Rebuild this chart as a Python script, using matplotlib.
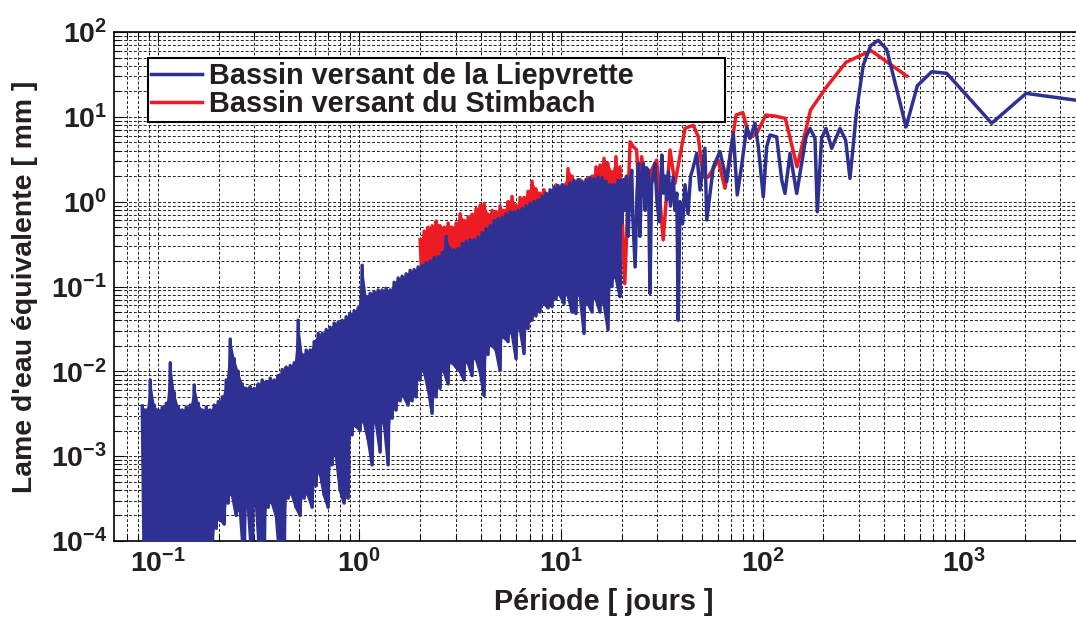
import numpy as np
import matplotlib
matplotlib.use("Agg")
import matplotlib.pyplot as plt
from matplotlib.ticker import FixedLocator, LogLocator, FuncFormatter, NullFormatter
from matplotlib.lines import Line2D
from matplotlib.font_manager import FontProperties

plt.rcParams.update({
    "font.family": ["Liberation Sans", "DejaVu Sans"],
    "font.weight": "bold",
    "mathtext.fontset": "custom",
    "mathtext.rm": "Liberation Sans:bold",
    "mathtext.bf": "Liberation Sans:bold",
    "mathtext.it": "Liberation Sans:bold",
    "mathtext.sf": "Liberation Sans:bold",
    "mathtext.default": "bf",
    "path.simplify": False,
})

# ---------------- data ----------------
series_labels = ["Bassin versant de la Liepvrette", "Bassin versant du Stimbach"]
x_ticks = [1e-1, 1e0, 1e1, 1e2, 1e3]
y_ticks = [1e-4, 1e-3, 1e-2, 1e-1, 1e0, 1e1, 1e2]

# Liepvrette: dense part (alternating crest / trough values), period span in days
blue_dense_span = (0.0837, 19.6)
blue_dense_hi = [
    3.9e-3, 3.5e-3, 7.9e-3, 4.0e-3, 3.5e-3, 3.8e-3, 4.2e-3, 0.0126, 5.6e-3, 3.8e-3,
    3.5e-3, 3.8e-3, 4.0e-3, 6.9e-3, 4.2e-3, 3.5e-3, 3.8e-3, 3.5e-3, 4.0e-3, 4.4e-3,
    5.0e-3, 7.9e-3, 0.024, 0.0141, 0.010, 7.1e-3, 6.3e-3, 6.6e-3, 6.3e-3, 7.1e-3,
    7.9e-3, 7.6e-3, 8.3e-3, 7.9e-3, 8.9e-3, 0.0105, 0.0112, 0.0117, 0.0126, 0.040,
    0.0158, 0.0178, 0.0178, 0.0224, 0.028, 0.028, 0.031, 0.033, 0.037, 0.038,
    0.040, 0.044, 0.048, 0.052, 0.056, 0.178, 0.076, 0.083, 0.087, 0.091,
    0.091, 0.095, 0.091, 0.112, 0.126, 0.132, 0.141, 0.155, 0.158, 0.170,
    0.178, 0.19, 0.20, 0.219, 0.224, 0.25, 0.39, 0.28, 0.27, 0.28,
    0.32, 0.34, 0.355, 0.355, 0.38, 0.43, 0.48, 0.52, 0.60, 0.63,
    0.66, 0.71, 0.76, 0.76, 0.79, 0.83, 0.89, 0.95, 1.0, 1.05,
    1.15, 1.26, 1.38, 1.48, 1.55, 1.58, 1.51, 1.66, 1.78, 1.82,
    1.74, 1.82, 1.91, 1.86, 1.95, 1.91, 1.74, 1.58, 1.58, 1.78,
]
blue_dense_lo = [
    5.0e-5, 5.0e-5, 6.3e-5, 5.0e-5, 5.0e-5, 7.9e-5, 5.0e-5, 5.0e-5, 6.3e-5, 5.0e-5,
    5.0e-5, 1.0e-4, 5.0e-5, 5.0e-5, 5.0e-5, 6.3e-5, 5.0e-5, 5.0e-5, 1.41e-4, 1.78e-4,
    1.58e-4, 2.8e-4, 3.5e-4, 2.0e-4, 2.24e-4, 5.0e-5, 2.5e-4, 5.0e-5, 2.8e-4, 5.0e-5,
    5.0e-5, 2.5e-4, 2.8e-4, 2.0e-4, 5.0e-5, 5.0e-5, 3.2e-4, 3.5e-4, 2.5e-4, 2.0e-4,
    3.2e-4, 3.5e-4, 2.5e-4, 4.5e-4, 6.3e-4, 3.5e-4, 2.5e-4, 7.9e-4, 1.0e-3, 4.0e-4,
    2.8e-4, 3.2e-4, 1.78e-3, 2.24e-3, 2.0e-3, 2.5e-3, 1.58e-3, 7.9e-4, 2.5e-3, 1.12e-3,
    2.5e-3, 7.9e-4, 2.8e-3, 3.5e-3, 4.5e-3, 5.0e-3, 4.0e-3, 4.5e-3, 5.0e-3, 7.9e-3,
    0.010, 6.3e-3, 3.2e-3, 5.0e-3, 6.3e-3, 0.010, 7.1e-3, 0.0126, 0.0112, 0.010,
    7.9e-3, 0.0126, 8.9e-3, 0.0141, 0.010, 5.2e-3, 0.0158, 0.020, 0.0178, 0.0102,
    0.025, 0.0224, 0.028, 0.0141, 0.032, 0.0162, 0.032, 0.040, 0.045, 0.050,
    0.063, 0.056, 0.058, 0.071, 0.079, 0.063, 0.079, 0.050, 0.048, 0.079,
    0.028, 0.063, 0.050, 0.071, 0.050, 0.063, 0.031, 0.10, 0.126, 0.076,
]
# Liepvrette: long periods
blue_periods = [
    19.7, 20.05, 20.4, 20.7, 21.1, 21.5, 22.0, 22.4, 22.7, 23.3,
    23.8, 24.2, 24.6, 25.1, 25.6, 26.1, 26.5, 27.1, 27.6, 28.1,
    28.6, 29.2, 29.9, 30.7, 31.6, 32.2, 32.8, 33.4, 34.1, 34.9,
    36.0, 36.7, 37.5, 38.1, 38.9, 40.1, 41.2, 42.6, 43.9, 45.3,
    47.1, 48.9, 51.7, 52.8, 56.9, 61.4, 66.3, 71.5, 74.8, 78.7,
    83.3, 86.5, 91.6, 95.1, 100.7, 104.7, 108.7, 117.3, 124.3, 129,
    136.6, 147.5, 164, 171.7, 181.7, 186.6, 196, 206, 220, 241.8,
    258, 271, 292.6, 315.5, 343, 374, 412, 450, 514, 585,
    689, 818, 1013, 1367, 2026, 4050,
]
blue_values = [
    1.78, 0.56, 1.82, 0.79, 2.0, 0.39, 1.58, 2.34, 0.63, 0.17,
    1.26, 2.82, 0.39, 2.0, 2.82, 0.79, 2.51, 2.34, 0.083, 1.58,
    2.0, 2.82, 1.0, 0.58, 3.55, 1.26, 2.0, 1.05, 2.24, 0.89,
    1.95, 0.79, 1.26, 0.040, 1.0, 0.55, 1.58, 0.72, 2.0, 2.57,
    3.72, 1.37, 4.27, 0.61, 2.57, 3.9, 1.72, 6.4, 1.2, 2.7,
    7.6, 5.6, 8.4, 4.45, 1.14, 4.45, 6.1, 5.8, 1.8, 1.25,
    3.7, 1.25, 5.8, 7.3, 5.6, 0.76, 5.6, 7.3, 4.25, 7.3,
    5.3, 1.88, 12.0, 40.8, 69.0, 79.8, 62.5, 27.2, 7.6, 23.3,
    34.0, 32.6, 18.6, 8.4, 18.9, 15.1,
]

# Stimbach: dense part
red_dense_span = (2.0, 19.15)
red_dense_hi = [
    0.355, 0.45, 0.50, 0.52, 0.59, 0.52, 0.50, 0.56, 0.50, 0.56,
    0.72, 0.60, 0.66, 0.71, 0.83, 0.91, 0.95, 0.71, 0.79, 0.76,
    0.89, 0.79, 1.0, 1.15, 0.89, 1.12, 1.12, 1.32, 1.74, 1.41,
    1.26, 1.38, 1.12, 1.32, 1.58, 1.41, 1.58, 2.45, 2.0, 1.58,
    1.82, 1.58, 1.91, 2.0, 2.57, 2.69, 3.24, 2.82, 2.24, 3.39,
]
red_dense_lo = [
    0.10, 0.079, 0.0195, 6.5e-3, 0.10, 0.112, 0.10, 0.126, 0.10, 0.141,
    0.126, 0.158, 0.141, 0.158, 0.178, 0.141, 0.20, 0.178, 0.224, 0.20,
    0.25, 0.040, 0.25, 0.28, 0.25, 0.32, 0.355, 0.32, 0.40, 0.355,
    0.45, 0.40, 0.50, 0.45, 0.25, 0.112, 0.50, 0.56, 0.224, 0.50,
    0.63, 0.56, 0.71, 0.63, 0.79, 0.71, 0.89, 0.79, 1.0, 0.79,
]
red_periods = [
    19.6, 20.7, 22.0, 22.8, 23.7, 24.2, 25.1, 26.6, 28.1, 29.8,
    32.1, 34.7, 36.7, 41.2, 45.3, 47.9, 50.7, 53.7, 60.2, 65.0,
    73.8, 79.7, 86.3, 94.2, 103.6, 115.1, 129.5, 148, 172.7, 207,
    259, 345, 518,
]
red_values = [
    2.57, 0.108, 5.08, 4.47, 4.07, 1.50, 3.39, 1.05, 2.36, 3.09,
    0.355, 4.07, 1.64, 7.33, 7.94, 5.82, 1.95, 1.95, 3.09, 1.44,
    10.5, 11.2, 5.62, 6.6, 10.5, 10.2, 9.6, 2.58, 12.0, 22.4,
    44.0, 60.3, 30.3,
]

BLUE = "#2e3192"
RED = "#ed1c24"
TXT = "#231f20"


def alternate(hi, lo):
    out = []
    for h, l in zip(hi, lo):
        out.extend([h, l])
    return out


blue_dense_x = np.geomspace(*blue_dense_span, 2 * len(blue_dense_hi))
red_dense_x = np.geomspace(*red_dense_span, 2 * len(red_dense_hi))
blue_x = np.concatenate([blue_dense_x, blue_periods])
blue_y = np.concatenate([alternate(blue_dense_hi, blue_dense_lo), blue_values])
red_x = np.concatenate([red_dense_x, red_periods])
red_y = np.concatenate([alternate(red_dense_hi, red_dense_lo), red_values])

# ---------------- figure ----------------
fig = plt.figure(figsize=(10.76, 6.23), dpi=100)
ax = fig.add_axes([0.10595, 0.13162, 0.9108, 0.81701])

# dense band (crest-to-trough area) + the trace itself
ax.fill_between(red_dense_x[0::2], red_dense_hi, red_dense_lo, color=RED, lw=0, zorder=2)
ax.plot(red_x, red_y, color=RED, lw=2.5, zorder=2)
ax.fill_between(blue_dense_x[0::2], blue_dense_hi, blue_dense_lo, color=BLUE, lw=0, zorder=3)
ax.plot(blue_x, blue_y, color=BLUE, lw=2.5, zorder=3)

ax.set_xscale("log")
ax.set_yscale("log")
ax.set_xlim(0.0606, 4400)
ax.set_ylim(1e-4, 1e2)

ax.xaxis.set_major_locator(FixedLocator(x_ticks))
ax.yaxis.set_major_locator(FixedLocator(y_ticks))
ax.xaxis.set_minor_locator(LogLocator(base=10, subs=np.arange(2, 10), numticks=100))
ax.yaxis.set_minor_locator(LogLocator(base=10, subs=np.arange(2, 10), numticks=100))
ax.xaxis.set_minor_formatter(NullFormatter())
ax.yaxis.set_minor_formatter(NullFormatter())
fmt = FuncFormatter(lambda v, p: r"$\mathbf{10^{%d}}$" % int(round(np.log10(v))))
ax.xaxis.set_major_formatter(fmt)
ax.yaxis.set_major_formatter(fmt)

ax.tick_params(which="both", direction="in", top=True, right=True, colors="black",
               labelcolor=TXT, labelsize=20.5, width=0.8)
ax.tick_params(which="major", length=7)
ax.tick_params(which="minor", length=4)
ax.tick_params(axis="x", which="major", pad=6)
ax.tick_params(axis="y", which="major", pad=5)

ax.grid(True, which="both", linestyle=(0, (3, 2)), linewidth=0.7, color="#222222")
for s in ax.spines.values():
    s.set_linewidth(1.2)
    s.set_color("black")

ax.set_xlabel("Période [ jours ]", fontsize=20.8, fontweight="bold", color=TXT)
ax.set_ylabel("Lame d'eau équivalente [ mm ]", fontsize=20.4, fontweight="bold", color=TXT)
ax.xaxis.set_label_coords(0.5, -0.092)
ax.yaxis.set_label_coords(-0.078, 0.5)

handles = [Line2D([], [], color=BLUE, lw=2.5), Line2D([], [], color=RED, lw=2.5)]
leg = ax.legend(handles, series_labels, loc="upper left",
                bbox_to_anchor=(0.0344, 0.9483, 0.5891, 0.0), mode="expand",
                frameon=True, fancybox=False, framealpha=1, edgecolor="black",
                borderpad=0.13, labelspacing=0.0, handlelength=1.75,
                handletextpad=0.25, borderaxespad=0.0,
                prop=FontProperties(family="Liberation Sans", weight="bold", size=20.8))
leg.get_frame().set_linewidth(1.5)
for t in leg.get_texts():
    t.set_color(TXT)

fig.savefig("out.png", dpi=100)
